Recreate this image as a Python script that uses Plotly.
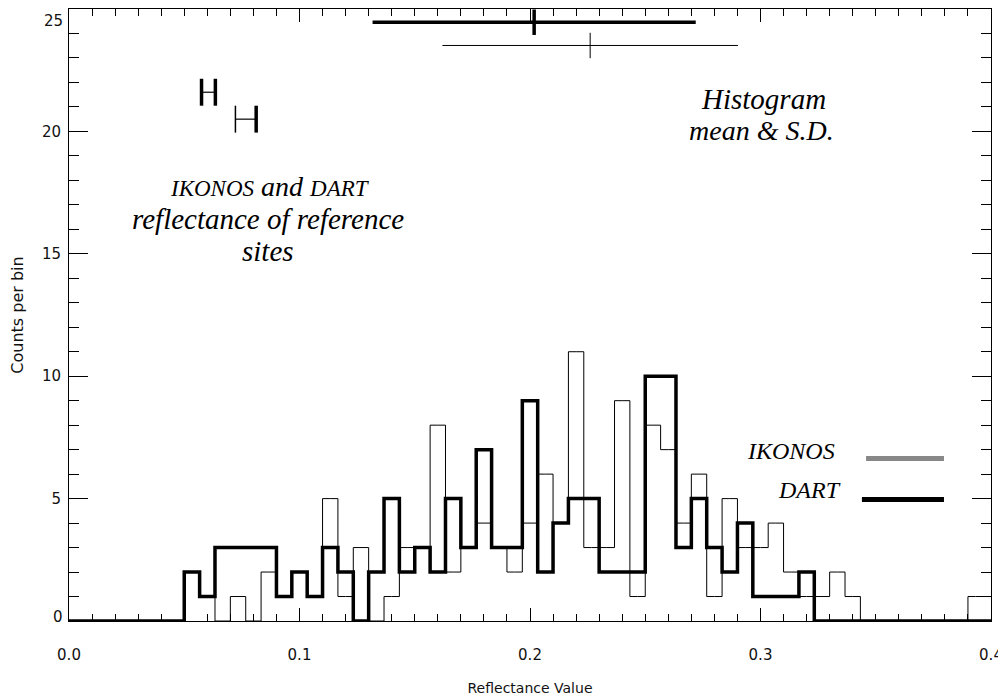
import plotly.graph_objects as go

# ---------------- data ----------------
n_bins = 60
x_max = 0.4
bin_centers = [k * x_max / n_bins for k in range(n_bins + 1)]

# counts per bin (IDL psym=10 style steps centred on bin_centers)
ikonos_counts = [0, 0, 0, 0, 0, 0, 0, 0, 2, 1,
                 0, 1, 0, 2, 1, 2, 1, 5, 1, 3,
                 0, 1, 3, 3, 8, 2, 3, 4, 3, 2,
                 4, 6, 4, 11, 3, 3, 9, 1, 8, 7,
                 4, 6, 1, 5, 3, 3, 4, 2, 1, 1,
                 2, 1, 0, 0, 0, 0, 0, 0, 0, 1,
                 1]
dart_counts = [0, 0, 0, 0, 0, 0, 0, 0, 2, 1,
               3, 3, 3, 3, 1, 2, 1, 3, 2, 0,
               2, 5, 2, 3, 2, 5, 3, 7, 3, 3,
               9, 2, 4, 5, 5, 2, 2, 2, 10, 10,
               3, 5, 3, 2, 4, 1, 1, 1, 2, 0,
               0, 0, 0, 0, 0, 0, 0, 0, 0, 0,
               0]

# histogram mean and standard deviation (bars at the top)
dart_mean, dart_sd, dart_bar_y = 0.2018, 0.0701, 24.46
ikonos_mean, ikonos_sd, ikonos_bar_y = 0.2261, 0.0641, 23.51

# reference-site reflectances (small H error bars)
ref_a_mean, ref_a_half, ref_a_y = 0.0605, 0.0030, 21.6
ref_b_mean, ref_b_half, ref_b_y = 0.0767, 0.0045, 20.5

x_ticks = [0.0, 0.1, 0.2, 0.3, 0.4]
x_tick_labels = ["0.0", "0.1", "0.2", "0.3", "0.4"]
y_ticks = [0, 5, 10, 15, 20, 25]
y_tick_labels = ["0", "5", "10", "15", "20", "25"]

# ---------------- figure ----------------
fig = go.Figure()

fig.add_trace(go.Scatter(x=bin_centers, y=ikonos_counts, mode="lines",
                         line=dict(color="black", width=1, shape="hvh"),
                         name="IKONOS", showlegend=False))
fig.add_trace(go.Scatter(x=bin_centers, y=dart_counts, mode="lines",
                         line=dict(color="black", width=3.5, shape="hvh"),
                         name="DART", showlegend=False))


def mean_sd_bar(mean, sd, y, width, tick_half=0.52):
    fig.add_trace(go.Scatter(
        x=[mean - sd, mean + sd, None, mean, mean],
        y=[y, y, None, y - tick_half, min(y + tick_half, 25.0)],
        mode="lines", line=dict(color="black", width=width),
        showlegend=False, hoverinfo="skip"))


mean_sd_bar(dart_mean, dart_sd, dart_bar_y, 3.5)
mean_sd_bar(ikonos_mean, ikonos_sd, ikonos_bar_y, 1)


def h_bar(mean, half, y, wl, wr, wh=1.2, tick_half=0.55):
    fig.add_trace(go.Scatter(x=[mean - half, mean + half], y=[y, y], mode="lines",
                             line=dict(color="black", width=wh),
                             showlegend=False, hoverinfo="skip"))
    fig.add_trace(go.Scatter(x=[mean - half, mean - half], y=[y - tick_half, y + tick_half],
                             mode="lines", line=dict(color="black", width=wl),
                             showlegend=False, hoverinfo="skip"))
    fig.add_trace(go.Scatter(x=[mean + half, mean + half], y=[y - tick_half, y + tick_half],
                             mode="lines", line=dict(color="black", width=wr),
                             showlegend=False, hoverinfo="skip"))


h_bar(ref_a_mean, ref_a_half, ref_a_y, 3.5, 3.5)
h_bar(ref_b_mean, ref_b_half, ref_b_y, 1.5, 3.5)

serif = "Liberation Serif, Times New Roman, serif"


def note(text, x, y, size, xanchor="center"):
    fig.add_annotation(x=x, y=y, xref="x", yref="y", text=text, showarrow=False,
                       xanchor=xanchor, yanchor="middle",
                       font=dict(family=serif, size=size, color="black"))


note("<i><span style='font-size:23px'>IKONOS</span> and <span style='font-size:23px'>DART</span></i>",
     0.0872, 17.74, 28)
note("<i>reflectance of reference</i>", 0.0863, 16.44, 29)
note("<i>sites</i>", 0.0863, 15.13, 29)
note("<i>Histogram</i>", 0.3011, 21.33, 29)
note("<i>mean &amp; S.D.</i>", 0.3006, 20.02, 28)
note("<i>IKONOS</i>", 0.3332, 6.93, 24, xanchor="right")
note("<i>DART</i>", 0.3358, 5.34, 24, xanchor="right")

fig.add_shape(type="line", xref="x", yref="y", x0=0.3458, x1=0.3796, y0=6.64, y1=6.64,
              line=dict(color="#888888", width=5))
fig.add_shape(type="line", xref="x", yref="y", x0=0.3440, x1=0.3796, y0=4.96, y1=4.96,
              line=dict(color="black", width=5))

axis_font = dict(family="DejaVu Sans, sans-serif", size=15, color="#111111")

# end labels of the y axis sit inside the frame (IDL style)
y_text_inner = [lab if 0 < v < 25 else "" for v, lab in zip(y_ticks, y_tick_labels)]
for v, lab, dy in [(y_ticks[0], y_tick_labels[0], 0.16), (y_ticks[-1], y_tick_labels[-1], -0.47)]:
    fig.add_annotation(x=0, y=v + dy, xref="paper", yref="y", text=lab, showarrow=False,
                       xanchor="right", yanchor="middle", xshift=-4, font=axis_font)

fig.update_xaxes(range=[0, 0.4], tickvals=x_ticks, ticktext=x_tick_labels,
                 ticks="inside", ticklen=13, tickwidth=1, tickcolor="black",
                 minor=dict(dtick=0.01, ticks="inside", ticklen=7, tickwidth=1, tickcolor="black"),
                 showline=True, linecolor="black", linewidth=1, mirror="allticks",
                 showgrid=False, zeroline=False, tickfont=axis_font,
                 ticklabelstandoff=20, automargin=False,
                 title=dict(text="Reflectance Value",
                            font=dict(family="DejaVu Sans, sans-serif", size=14, color="#111111"),
                            standoff=20))
fig.update_yaxes(range=[0, 25], tickvals=y_ticks, ticktext=y_text_inner,
                 ticks="inside", ticklen=19, tickwidth=1, tickcolor="black",
                 minor=dict(dtick=1, ticks="inside", ticklen=10, tickwidth=1, tickcolor="black"),
                 showline=True, linecolor="black", linewidth=1, mirror="allticks",
                 showgrid=False, zeroline=False, tickfont=axis_font,
                 ticklabelstandoff=4, automargin=False,
                 title=dict(text="Counts per bin",
                            font=dict(family="DejaVu Sans, sans-serif", size=16, color="#111111"),
                            standoff=14))

fig.update_layout(width=998, height=690,
                  margin=dict(l=61, r=15, t=1, b=77, autoexpand=False),
                  paper_bgcolor="white", plot_bgcolor="white",
                  showlegend=False)

fig.write_html("out.html")
